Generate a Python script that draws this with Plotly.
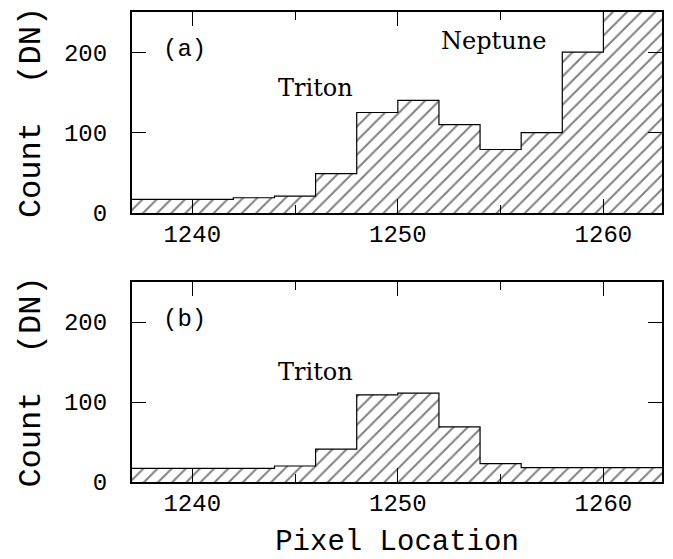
import plotly.graph_objects as go

# bin left edges (pixel), last value is the right edge of the final bin
edges_a = [1237, 1242, 1244, 1246, 1248, 1250, 1252, 1254, 1256, 1258, 1260, 1263]
counts_a = [17, 19, 21, 49, 125, 140, 110, 79, 100, 200, 300]

edges_b = [1237, 1244, 1246, 1248, 1250, 1252, 1254, 1256, 1263]
counts_b = [17, 20, 41, 109, 111, 69, 23, 18]

xticks = [1240, 1250, 1260]
yticks = [0, 100, 200]

SERIF = "DejaVu Serif"
MONO = "Liberation Mono"

fig = go.Figure()


def add_hist(edges, counts, xa, ya):
    # step outline with hatched fill underneath
    fig.add_trace(
        go.Scatter(
            x=edges,
            y=counts + [counts[-1]],
            mode="lines",
            line=dict(color="black", width=1.2, shape="hv"),
            fill="tozeroy",
            fillcolor="white",
            fillpattern=dict(shape="/", fgcolor="black", bgcolor="white",
                             size=10, solidity=0.2),
            xaxis=xa,
            yaxis=ya,
            showlegend=False,
            hoverinfo="skip",
        )
    )


add_hist(edges_a, counts_a, "x", "y")
add_hist(edges_b, counts_b, "x2", "y2")

xaxis_style = dict(
    range=[1237.07, 1262.85],
    tickvals=xticks,
    ticks="inside",
    ticklen=14,
    tickwidth=1.3,
    tickcolor="black",
    showline=True,
    linewidth=2,
    linecolor="black",
    mirror="ticks",
    showgrid=False,
    zeroline=False,
    automargin=False,
    minor=dict(dtick=5, tick0=1235, ticks="inside", ticklen=8,
               tickwidth=1.3, tickcolor="black", showgrid=False),
    tickfont=dict(family=MONO, size=24, color="black"),
    ticklabelstandoff=-2,
)
yaxis_style = dict(
    range=[0, 250],
    tickvals=yticks,
    ticks="inside",
    ticklen=14,
    tickwidth=1.3,
    tickcolor="black",
    showline=True,
    linewidth=2,
    linecolor="black",
    mirror="ticks",
    showgrid=False,
    zeroline=False,
    automargin=False,
    tickfont=dict(family=MONO, size=24, color="black"),
    ticklabelstandoff=18,
    title=dict(text="Count\u00a0\u00a0(DN)",
               font=dict(family=MONO, size=32, color="black"), standoff=14),
)

# page body adds an 8px offset, so the figure is drawn slightly smaller
fig.update_layout(
    width=665,
    height=551,
    margin=dict(l=124, r=11, t=4, b=77),
    paper_bgcolor="white",
    plot_bgcolor="white",
    xaxis=dict(xaxis_style, domain=[0, 1], anchor="y"),
    yaxis=dict(yaxis_style, domain=[0.5723, 1], anchor="x"),
    xaxis2=dict(xaxis_style, domain=[0, 1], anchor="y2",
                title=dict(text="Pixel Location",
                           font=dict(family=MONO, size=29, color="black"),
                           standoff=15)),
    yaxis2=dict(yaxis_style, domain=[0, 0.4255], anchor="x2"),
)

labels = [
    ("(a)", 1239.6, 203, "x", "y", MONO, 24),
    ("Neptune", 1254.66, 214, "x", "y", SERIF, 24),
    ("Triton", 1246.0, 155, "x", "y", SERIF, 24),
    ("(b)", 1239.6, 203, "x2", "y2", MONO, 24),
    ("Triton", 1246.0, 138, "x2", "y2", SERIF, 24),
]
for text, lx, ly, xa, ya, fam, sz in labels:
    fig.add_annotation(
        x=lx, y=ly, xref=xa, yref=ya, text=text, showarrow=False,
        font=dict(family=fam, size=sz, color="black"),
    )

fig.write_html("out.html")
